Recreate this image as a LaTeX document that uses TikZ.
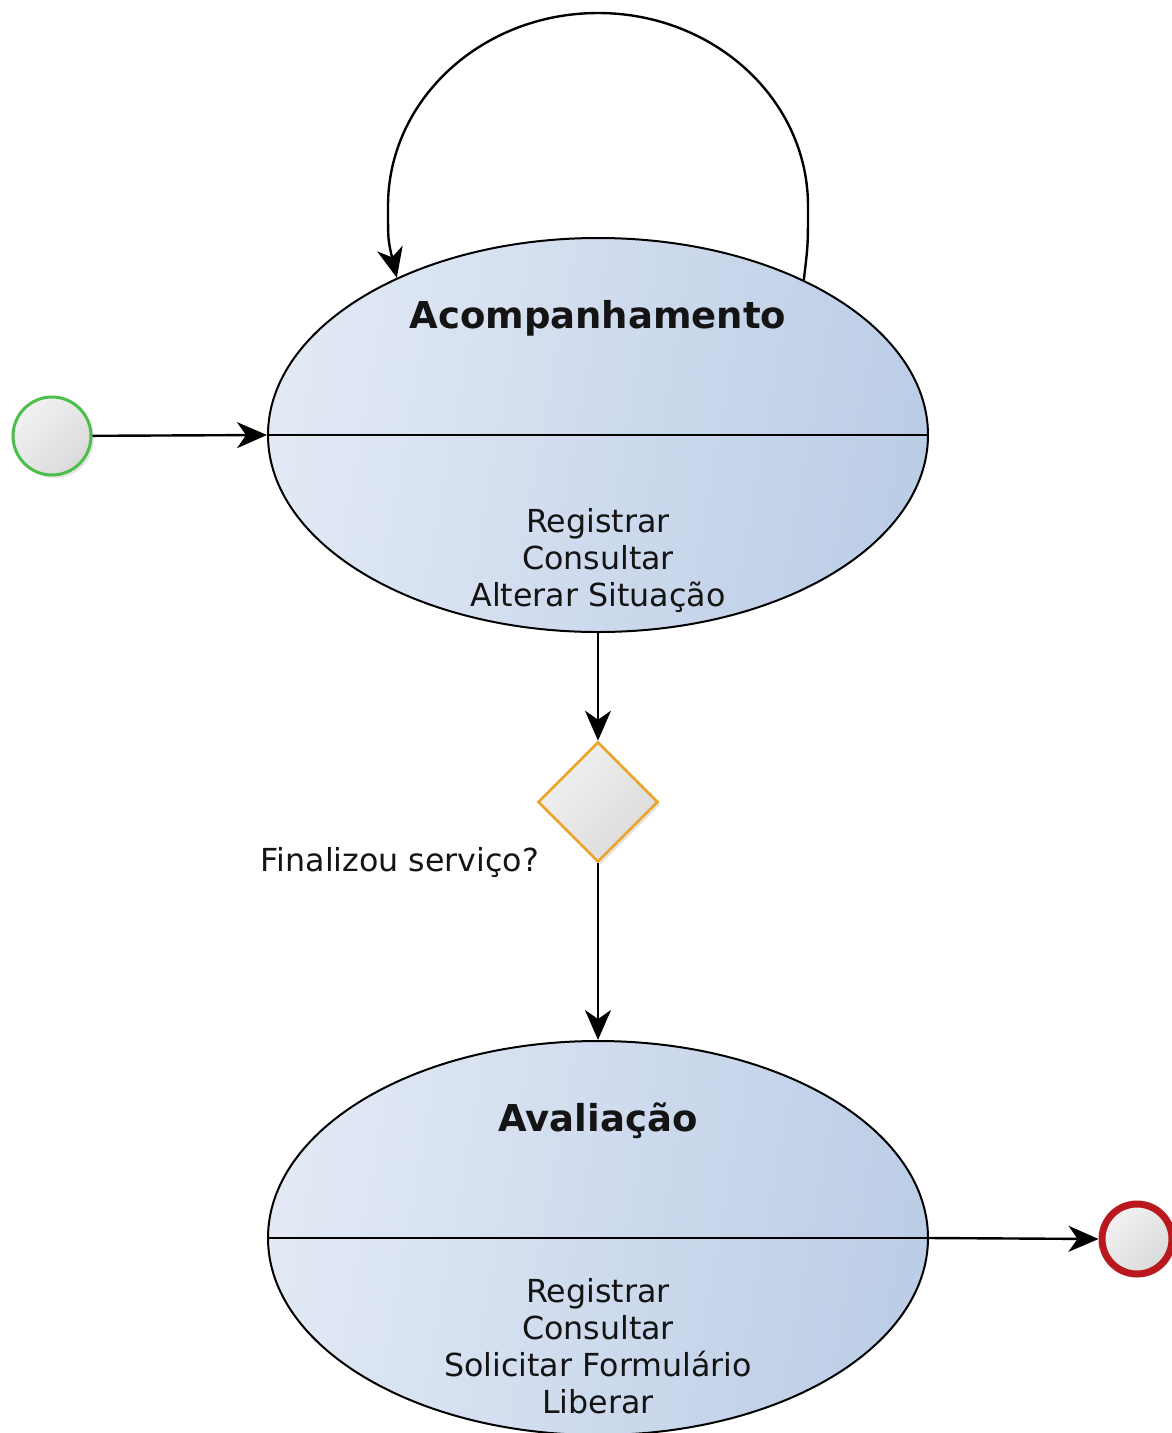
\documentclass[tikz,border=0pt]{standalone}
\usepackage{fontspec}
\setmainfont{DejaVu Sans}
\usetikzlibrary{shapes.geometric,arrows.meta,shadows}
\definecolor{stA}{RGB}{226,233,245}
\definecolor{stB}{RGB}{188,205,230}
\definecolor{grA}{RGB}{242,242,242}
\definecolor{grB}{RGB}{218,218,218}
\definecolor{startgreen}{RGB}{76,190,76}
\definecolor{endred}{RGB}{185,25,30}
\definecolor{decorange}{RGB}{236,164,40}
\definecolor{txt}{RGB}{20,20,20}
\begin{document}
\begin{tikzpicture}[x=1pt,y=-1pt,
  state/.style={ellipse, draw=black, line width=2pt, minimum width=660pt, minimum height=394pt, inner sep=0pt, left color=stA, right color=stB, shading angle=80},
  divider/.style={line width=2.2pt},
  titletext/.style={font=\bfseries\fontsize{37}{44}\selectfont, text=txt, inner sep=0pt},
  bodytext/.style={font=\fontsize{31.7}{37}\selectfont, text=txt, align=center, inner sep=0pt},
  startst/.style={circle, draw=startgreen, line width=3pt, minimum size=78pt, inner sep=0pt, left color=grA, right color=grB, shading angle=45, drop shadow={opacity=0.2, shadow xshift=3pt, shadow yshift=-3pt}},
  endst/.style={circle, draw=endred, line width=7pt, minimum size=70pt, inner sep=0pt, left color=grA, right color=grB, shading angle=45, drop shadow={opacity=0.2, shadow xshift=3pt, shadow yshift=-3pt}},
  decis/.style={diamond, draw=decorange, line width=2.6pt, minimum width=120pt, minimum height=120pt, inner sep=0pt, left color=grA, right color=grB, shading angle=45, drop shadow={opacity=0.2, shadow xshift=3pt, shadow yshift=-3pt}},
  conn/.style={line width=2.4pt, draw=black, -{Stealth[length=30pt, width=26pt, inset=9pt]}}
]
\useasboundingbox (0,0) rectangle (1171,1433);
\fill[white] (0,0) rectangle (1171,1433);

% Acompanhamento
\node[state] (acomp) at (598,435) {};
\draw[divider] (acomp.west) -- (acomp.east);
\node[titletext] (acompT) at (598,318) {Acompanhamento};
\node[bodytext] (acompB) at (598,561) {Registrar\\Consultar\\Alterar Situação};

% start
\node[startst] (start) at (52,436) {};

% decision
\node[decis] (dec) at (598,802) {};
\node[bodytext] (declbl) at (400,863) {Finalizou serviço?};

% Avaliacao
\node[state] (aval) at (598,1238) {};
\draw[divider] (aval.west) -- (aval.east);
\node[titletext] (avalT) at (598,1121) {Avaliação};
\node[bodytext] (avalB) at (598,1346) {Registrar\\Consultar\\Solicitar Formulário\\Liberar};

% end
\node[endst] (end) at (1137,1239) {};

% connectors
\draw[conn] (start) -- (acomp.west);
\draw[conn] (acomp.south) -- (dec.north);
\draw[conn] (dec.south) -- (aval.north);
\draw[conn] (aval.east) -- (end.west);
\coordinate (loopR) at (808,206);
\coordinate (looptop) at (598,13);
\coordinate (loopL) at (388,206);
\draw[conn] (acomp.37.4) .. controls (808,245) .. (loopR)
  .. controls (808,99.5) and (714,13) .. (looptop)
  .. controls (482,13) and (388,99.5) .. (loopL)
  .. controls (388,240) .. (acomp.142.6);
\end{tikzpicture}
\end{document}
